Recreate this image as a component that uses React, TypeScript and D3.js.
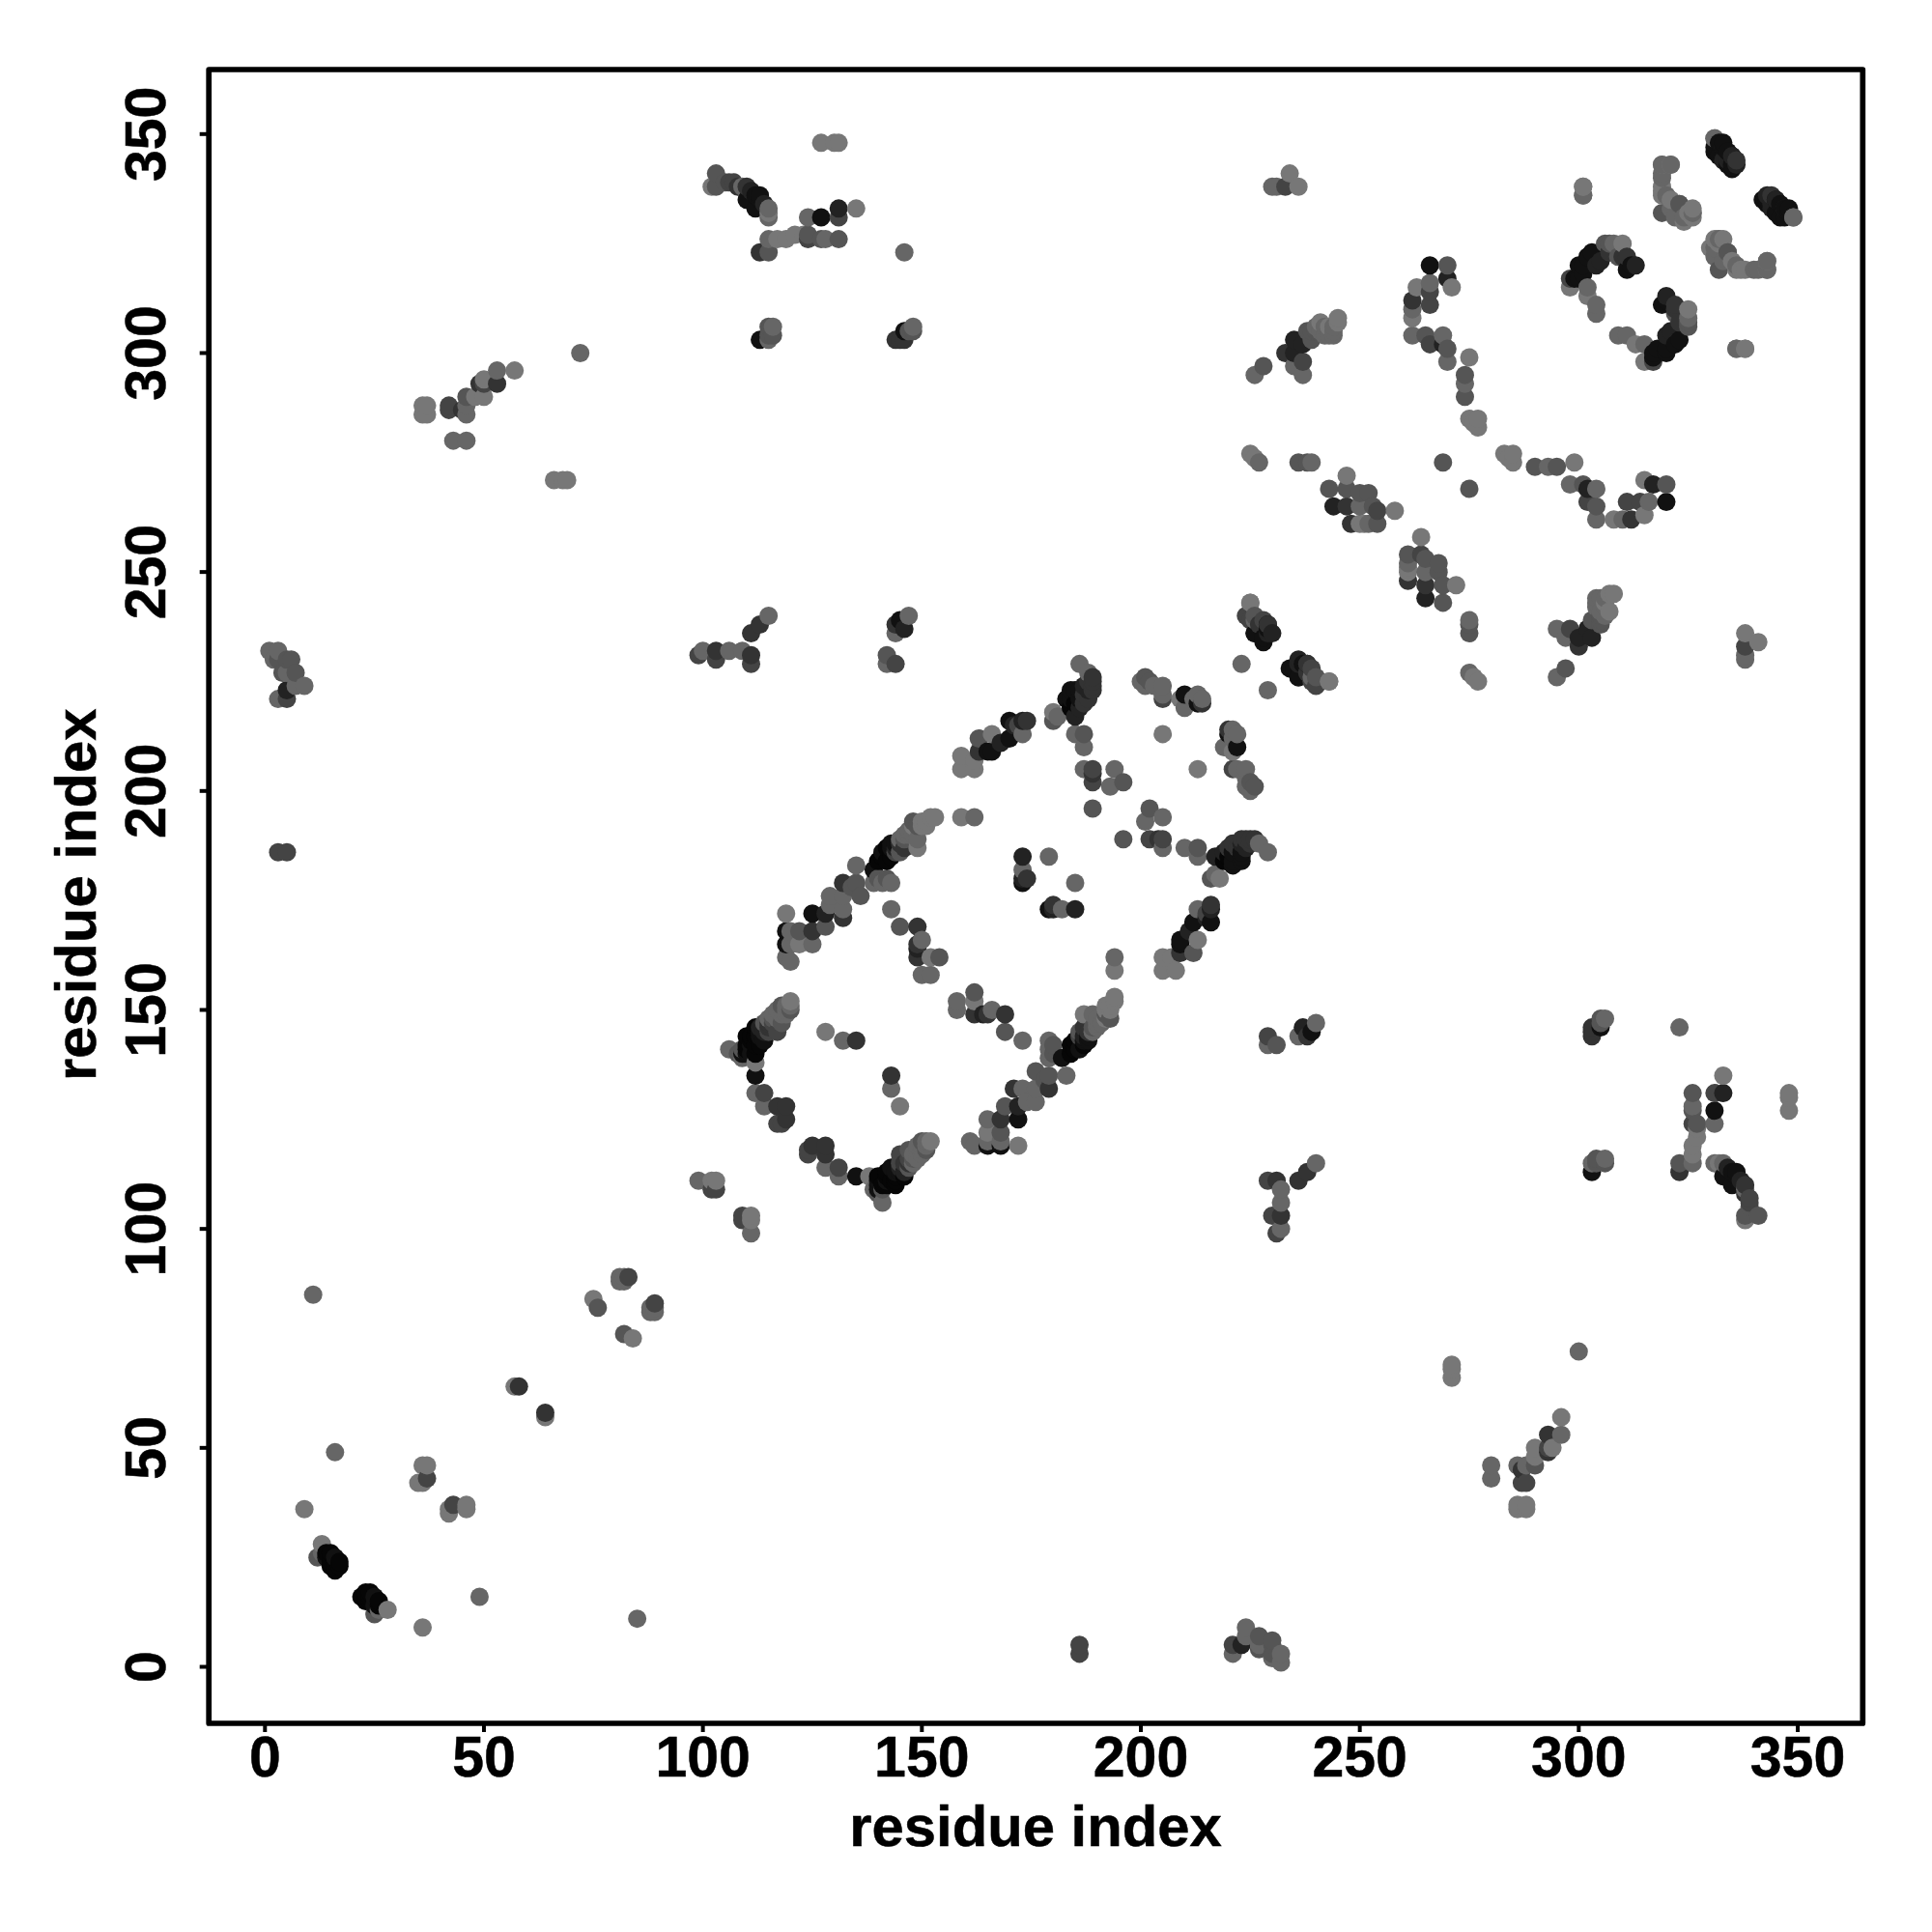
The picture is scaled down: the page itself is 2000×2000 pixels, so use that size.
import React from "react";
import * as d3 from "d3";

// Contacts are [residue i, residue j, shade digit] with i < j. The map is symmetric.
const lowResidues: number[][] = [
  [9,36,7],[11,85,6],[16,49,6],
  [13,28,7],[12,25,5],[13,26,6],[14,25,1],[14,26,0],[15,26,0],[15,24,0],[15,23,0],[16,22,0],[16,23,0],[16,24,0],[16,25,1],[17,23,0],[17,24,0],
  [35,42,7],[36,42,7],[36,46,7],[37,46,7],[37,43,4],[57,64,7],[58,64,3],
  [75,84,7],[76,82,5],[81,88,6],[81,89,6],[82,88,6],[82,89,6],[83,89,4],
  [99,111,6],[102,111,7],[103,111,7],[102,109,4],[103,109,4],
];
const farLeft: number[][] = [
  [1,232,6],[2,230,6],[3,232,6],[3,230,5],[4,227,5],[5,230,5],[5,227,6],[6,230,5],[7,227,5],[9,224,6],[7,224,6],[5,223,2],[5,221,4],[3,221,6],
  [3,186,4],[5,186,4],[72,300,6],
  [36,286,7],[36,288,7],[37,286,7],[37,288,7],[42,288,4],[42,287,4],[45,287,3],[46,288,6],[46,286,6],[46,290,5],[48,290,7],[49,293,3],[50,293,4],[50,290,7],[50,294,7],[53,293,3],[53,296,6],[57,296,7],
  [43,280,6],[46,280,6],[66,271,7],[68,271,7],[69,271,7],
];
const topCluster: number[][] = [
  [102,338,7],[103,338,5],[103,341,5],[105,339,5],[106,339,4],[107,339,4],[108,338,3],[109,338,6],[110,338,3],[110,335,1],[111,337,2],[112,336,1],[112,333,1],[113,336,1],[113,335,1],[114,334,2],[115,333,6],[115,331,6],[115,332,7],
  [113,323,3],[115,323,5],[115,326,6],[117,326,7],[119,326,7],[121,327,7],[123,327,7],[124,331,6],[127,331,1],[131,333,2],[131,331,4],[135,333,7],[124,326,4],[124,327,5],[127,326,5],[128,326,6],[131,326,5],
  [127,348,7],[130,348,7],[131,348,7],[146,323,6],
  [113,303,1],[115,303,6],[115,304,5],[116,304,5],[115,306,5],[116,306,6],
  [144,303,3],[145,303,3],[146,303,3],[146,305,1],[147,305,5],[148,305,5],[148,306,6],
  [99,231,4],[100,232,6],[103,232,3],[103,230,4],[106,232,6],[109,232,6],[111,231,3],[111,229,4],[111,236,3],[113,238,3],[115,240,6],
  [142,229,6],[142,231,5],[144,229,4],[144,236,6],[144,238,3],[145,239,1],[146,237,2],[147,240,6],
];
const ringLeft: number[][] = [
  [106,141,6],[108,140,5],[109,139,6],[109,141,5],[109,140,1],[110,140,1],[110,141,0],[110,142,0],[110,144,0],[111,140,1],[111,142,1],[111,143,0],[111,144,0],[112,142,0],[112,144,0],[112,146,0],[112,140,0],[112,138,7],[112,135,1],[113,142,0],[113,144,1],[113,145,1],[113,146,2],[114,143,1],[114,145,2],[114,147,5],[115,145,4],[115,146,3],[115,147,3],[115,148,6],[116,147,4],[116,148,5],[116,149,6],[117,145,4],[117,148,6],[117,150,6],[118,149,6],[118,150,6],[118,151,5],[118,147,5],[119,149,6],[119,150,6],[119,151,6],[120,150,5],[120,151,6],[120,152,7],
  [112,131,6],[114,131,4],[114,128,6],[117,128,3],[119,128,3],[119,125,3],[117,124,4],[118,124,4],
  [128,145,7],[132,143,6],[135,143,3],
  [119,172,7],[119,168,1],[119,165,1],[120,168,6],[120,165,6],[122,165,7],[119,162,6],[120,161,6],[122,168,5],[125,172,1],[125,168,3],[125,165,6],[128,172,2],[128,169,5],[129,176,6],[129,174,6],[132,179,3],[132,176,6],[132,173,6],[132,171,3],[134,178,5],[135,183,6],[135,179,5],[136,176,5],
  [139,182,1],[139,179,6],[140,184,0],[140,180,5],[141,186,1],[141,185,0],[141,179,6],[142,187,0],[142,184,0],[142,180,5],[143,187,1],[143,185,0],[143,179,6],[143,188,1],[144,187,2],[144,188,1],[144,186,4],[145,186,5],[145,188,3],[145,189,6],[146,187,3],[146,189,5],[146,190,6],[147,190,6],[147,191,6],[148,190,6],
  [148,193,5],[148,192,7],[149,192,5],[149,189,6],[149,187,7],[150,193,7],[150,192,7],[151,193,7],[151,192,7],[152,194,7],[153,194,7],[159,194,7],[162,194,6],
  [143,173,6],[145,169,5],[149,169,3],[150,166,6],[149,165,3],[149,162,3],[149,164,2],[152,162,7],[154,162,5],[150,158,6],[152,158,6],
];
const ringTop: number[][] = [
  [159,208,7],[159,205,7],[162,205,7],[162,207,7],[163,209,3],[163,212,5],[165,209,1],[166,209,1],[166,213,7],[168,211,2],[170,212,1],[170,216,1],[171,215,2],[172,215,4],[173,213,6],[174,216,3],[173,216,2],
  [180,218,7],[180,216,5],[181,217,6],[183,221,1],[184,221,1],[184,219,0],[184,223,1],[185,223,1],[185,220,0],[185,217,2],[186,219,2],[186,221,1],[186,223,1],[186,229,6],[187,222,3],[187,220,3],[187,224,2],[188,221,3],[188,223,2],[188,225,3],[188,227,6],[189,226,3],[189,225,3],[189,224,3],[189,223,3],
  [185,213,6],[187,213,5],[187,210,6],[187,205,6],[189,205,4],[189,202,4],[189,196,5],[189,204,3],[194,205,6],[193,201,6],[196,202,5],
  [173,185,2],[173,182,6],[173,180,2],[173,179,1],[174,180,3],[179,185,6],
  [200,225,6],[201,226,5],[201,224,6],[202,225,5],[203,224,6],[205,224,6],[205,222,6],[205,221,4],[205,213,7],
  [209,221,7],[210,222,1],[210,219,6],[212,221,6],[213,222,6],[213,220,1],[214,220,3],[214,221,6],
  [223,229,6],
];
const rightClusters: number[][] = [
  [225,277,7],[226,276,7],[227,275,6],[225,243,7],[224,240,4],[226,240,5],[226,236,1],[227,238,3],[228,235,1],[229,237,1],[229,238,1],[230,236,2],
  [234,228,1],[236,229,2],[236,226,1],[238,229,3],[239,228,4],[239,226,6],[239,225,4],[243,225,7],
  [230,338,6],[231,338,6],[233,338,4],[234,341,7],[236,338,7],
  [226,295,6],[228,297,5],[233,300,3],[235,303,2],[235,300,2],[235,297,6],[237,298,4],[237,295,6],[237,302,2],[238,305,5],[239,303,5],[239,305,5],[240,305,5],[240,306,6],[241,305,6],[241,307,7],[242,304,6],[242,306,6],[243,304,6],[243,306,7],[244,304,6],[244,305,6],[244,306,6],[245,307,7],[245,308,7],
  [236,275,5],[238,275,5],[239,275,6],
  [243,269,5],[244,265,2],[247,272,7],[247,269,5],[247,265,3],[248,261,3],[250,268,5],[250,265,6],[250,261,7],[251,261,7],[252,268,5],[252,261,6],[253,265,5],[254,264,4],[254,261,5],[258,264,7],
  [262,304,6],[262,308,7],[262,310,6],[262,312,3],[263,315,7],[266,320,1],[266,316,6],[266,314,4],[266,311,4],[265,304,5],[266,302,4],[269,304,6],[269,302,2],[270,301,5],[270,298,6],[270,320,5],[270,317,2],[271,315,7],[269,275,5],
  [274,295,5],[274,293,6],[274,290,5],[275,299,7],[275,285,7],[277,285,7],[277,283,7],[276,284,7],
];
const upperRight: number[][] = [
  [298,315,7],[298,317,4],[299,317,1],[300,317,1],[300,320,1],[301,318,1],[301,320,1],[302,322,1],[303,323,1],[304,320,2],[305,321,2],[306,325,5],[307,325,5],[308,325,6],[310,325,7],[309,322,5],[307,323,3],[310,322,3],[311,322,3],[311,319,1],[312,320,1],[313,320,2],[302,315,6],[302,313,7],[304,311,6],[304,309,6],
  [301,338,7],[301,336,6],
  [319,343,7],[321,343,7],[319,340,6],[319,338,7],[319,336,7],[320,336,6],[319,332,5],[322,331,6],[323,334,6],[324,330,7],[325,332,7],[326,332,7],[326,331,7],
  [331,349,6],[332,348,1],[331,347,1],[333,347,2],[334,346,1],[333,344,2],[334,343,1],[335,345,1],[335,343,1],[336,344,3],
  [342,335,1],[343,336,2],[344,334,2],[345,335,2],[345,332,1],[346,331,1],[347,333,1],[348,333,1],[349,331,6],
  [331,324,6],[332,326,6],[333,326,7],[334,323,5],[333,321,6],[335,321,7],[337,319,7],[341,319,6],[343,319,6],[343,321,6],
  [336,301,6],[338,301,7],
];

const xTicks = [0, 50, 100, 150, 200, 250, 300, 350];
const axisTitle = "residue index";

const W = 2000;
const scaleX = d3.scaleLinear().domain([0, 350]).range([274.3, 1861]);
const scaleY = d3.scaleLinear().domain([0, 350]).range([1725.5, 138.8]);
const FONT = "'Liberation Sans', Arial, sans-serif";
const gray = (s: number) => {
  const v = s === 0 ? 6 : s * 17;
  return d3.rgb(v, v, v).formatHex();
};

export default function App() {
  const upper = [...lowResidues, ...farLeft, ...topCluster, ...ringLeft, ...ringTop, ...rightClusters, ...upperRight];
  const all = upper.flatMap(([i, j, s]) => [[i, j, s], [j, i, s]]);
  const sorted = d3.sort(all, (a, b) => d3.ascending(a[0], b[0]) || d3.ascending(a[1], b[1]));
  const left = 216.2, right = 1928.3, top = 72, bottom = 1784;
  return (
    <svg width={W} height={W} viewBox={`0 0 ${W} ${W}`}
      style={{ position: "absolute", left: 0, top: 0, background: "#fff" }}>
      <g>
        {sorted.map((d, k) => (
          <circle key={k} cx={scaleX(d[0])} cy={scaleY(d[1])} r={9.5} fill={gray(d[2])} />
        ))}
      </g>
      <rect x={left} y={top} width={right - left} height={bottom - top} fill="none" stroke="#000" strokeWidth={5.7} strokeLinejoin="round" />
      {xTicks.map((t) => (
        <g key={t}>
          <line x1={scaleX(t)} x2={scaleX(t)} y1={bottom} y2={bottom + 9} stroke="#000" strokeWidth={4} />
          <text x={scaleX(t)} y={1839} textAnchor="middle" fontFamily={FONT} fontWeight="bold" fontSize={59} stroke="#000" strokeWidth={0.5}>{t}</text>
          <line y1={scaleY(t)} y2={scaleY(t)} x1={left} x2={left - 9.5} stroke="#000" strokeWidth={4} />
          <text transform={`translate(171,${scaleY(t)}) rotate(-90)`} textAnchor="middle" fontFamily={FONT} fontWeight="bold" fontSize={59} stroke="#000" strokeWidth={0.5}>{t}</text>
        </g>
      ))}
      <text x={1072} y={1911} textAnchor="middle" fontFamily={FONT} fontWeight="bold" fontSize={59.8} stroke="#000" strokeWidth={0.5}>{axisTitle}</text>
      <text transform={`translate(98.5,926.3) rotate(-90)`} textAnchor="middle" fontFamily={FONT} fontWeight="bold" fontSize={59.8} stroke="#000" strokeWidth={0.5}>{axisTitle}</text>
    </svg>
  );
}
